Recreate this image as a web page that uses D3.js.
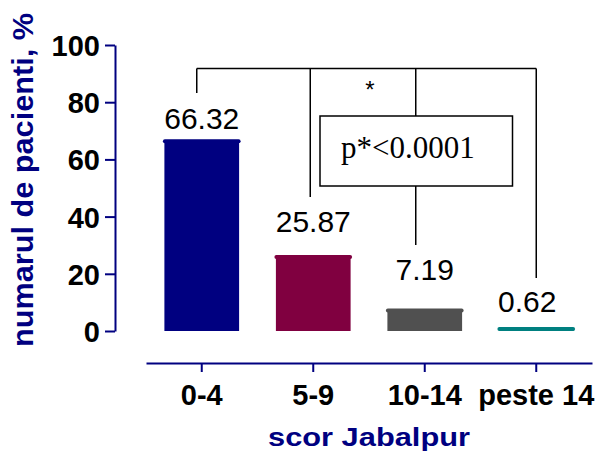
<!DOCTYPE html>
<html>
<head>
<meta charset="utf-8">
<script src="https://cdn.jsdelivr.net/npm/d3@7"></script>
<style>
  html, body { margin: 0; padding: 0; background: #fff; }
  svg { display: block; }
</style>
</head>
<body>
<svg id="chart" width="600" height="451"></svg>
<script>
// ---- data ----
const categories = ["0-4", "5-9", "10-14", "peste 14"];
const values = [66.32, 25.87, 7.19, 0.62];
const valueLabels = ["66.32", "25.87", "7.19", "0.62"];
const yTicks = [0, 20, 40, 60, 80, 100];
const barColors = ["#000080", "#800040", "#505050", "#008080"];
const yTitle = "numarul de pacienti, %";
const xTitle = "scor Jabalpur";
const pText = "p*<0.0001";

// ---- layout (not data) ----
const labelLift = [12.5, 25, 30.5, 17.5];
const labelShift = [0, 0, 0, -9];
const navy = "#000080";
const sans = "'Liberation Sans', Arial, sans-serif";

const svg = d3.select("#chart");

const y = d3.scaleLinear().domain([0, 100]).range([331, 45]);
const x = d3.scaleBand().domain(categories).range([146, 592]).paddingInner(0.33).paddingOuter(0.165);

// Y axis
const yAxis = svg.append("g")
  .attr("transform", "translate(115,0)")
  .call(d3.axisLeft(y).tickValues(yTicks).tickSize(10).tickSizeOuter(0).tickPadding(5));
yAxis.select(".domain").attr("stroke", navy).attr("stroke-width", 2);
yAxis.selectAll(".tick line").attr("stroke", navy).attr("stroke-width", 2);
yAxis.selectAll(".tick text")
  .attr("fill", "#000").attr("font-family", sans).attr("font-weight", "bold")
  .attr("font-size", 29).attr("dy", "0.36em");

// X axis
const xAxis = svg.append("g")
  .attr("transform", "translate(0,363)")
  .call(d3.axisBottom(x).tickSize(9).tickSizeOuter(0));
xAxis.select(".domain").attr("stroke", navy).attr("stroke-width", 2);
xAxis.selectAll(".tick line").attr("stroke", navy).attr("stroke-width", 2);
xAxis.selectAll(".tick text")
  .attr("fill", "#000").attr("font-family", sans).attr("font-weight", "bold")
  .attr("font-size", 29).attr("y", 42).attr("dy", 0);

// Bars
const bars = svg.append("g");
bars.selectAll("rect").data(values).join("rect")
  .attr("x", (d, i) => x(categories[i]))
  .attr("width", x.bandwidth())
  .attr("y", d => y(d))
  .attr("height", d => y(0) - y(d))
  .attr("fill", (d, i) => barColors[i]);
bars.selectAll("line").data(values).join("line")
  .attr("x1", (d, i) => x(categories[i]) + 0.5)
  .attr("x2", (d, i) => x(categories[i]) + x.bandwidth() - 0.5)
  .attr("y1", d => Math.min(y(d), y(0) - 2))
  .attr("y2", d => Math.min(y(d), y(0) - 2))
  .attr("stroke", (d, i) => barColors[i])
  .attr("stroke-width", 4)
  .attr("stroke-linecap", "round");

// Value labels
svg.append("g").selectAll("text").data(values).join("text")
  .attr("x", (d, i) => x(categories[i]) + x.bandwidth() / 2 + labelShift[i])
  .attr("y", (d, i) => y(d) - labelLift[i])
  .attr("text-anchor", "middle")
  .attr("font-family", sans).attr("font-size", 30).attr("fill", "#000")
  .text((d, i) => valueLabels[i]);

// Significance bracket
const bracketY = y(91.8);
const ann = svg.append("g").attr("stroke", "#000").attr("stroke-width", 1.5).attr("fill", "none");
const cx = i => x(categories[i]) + x.bandwidth() / 2;
ann.append("line").attr("x1", cx(0) - 5).attr("x2", cx(3)).attr("y1", bracketY).attr("y2", bracketY);
ann.append("line").attr("x1", cx(0) - 5).attr("x2", cx(0) - 5).attr("y1", bracketY).attr("y2", 93);
ann.append("line").attr("x1", cx(1) - 3).attr("x2", cx(1) - 3).attr("y1", bracketY).attr("y2", 197);
ann.append("line").attr("x1", cx(2) - 9).attr("x2", cx(2) - 9).attr("y1", bracketY).attr("y2", 116);
ann.append("line").attr("x1", cx(2) - 9).attr("x2", cx(2) - 9).attr("y1", 186).attr("y2", 245);
ann.append("line").attr("x1", cx(3)).attr("x2", cx(3)).attr("y1", bracketY).attr("y2", 278);
ann.append("rect").attr("x", 320).attr("y", 116).attr("width", 192.5).attr("height", 70);

svg.append("text").attr("x", 370).attr("y", 98).attr("text-anchor", "middle")
  .attr("font-family", sans).attr("font-size", 24).attr("fill", "#000").text("*");

svg.append("text").attr("x", 341).attr("y", 157.5)
  .attr("font-family", "'Liberation Serif', 'Times New Roman', serif")
  .attr("font-size", 31).attr("fill", "#000").text(pText);

// Axis titles
svg.append("text")
  .attr("transform", "translate(33,180) rotate(-90)")
  .attr("text-anchor", "middle")
  .attr("textLength", 334).attr("lengthAdjust", "spacingAndGlyphs")
  .attr("font-family", sans).attr("font-weight", "bold").attr("font-size", 30)
  .attr("fill", navy).text(yTitle);

svg.append("text")
  .attr("x", 268).attr("y", 446)
  .attr("textLength", 202).attr("lengthAdjust", "spacingAndGlyphs")
  .attr("font-family", sans).attr("font-weight", "bold").attr("font-size", 26)
  .attr("fill", navy).text(xTitle);
</script>
</body>
</html>
